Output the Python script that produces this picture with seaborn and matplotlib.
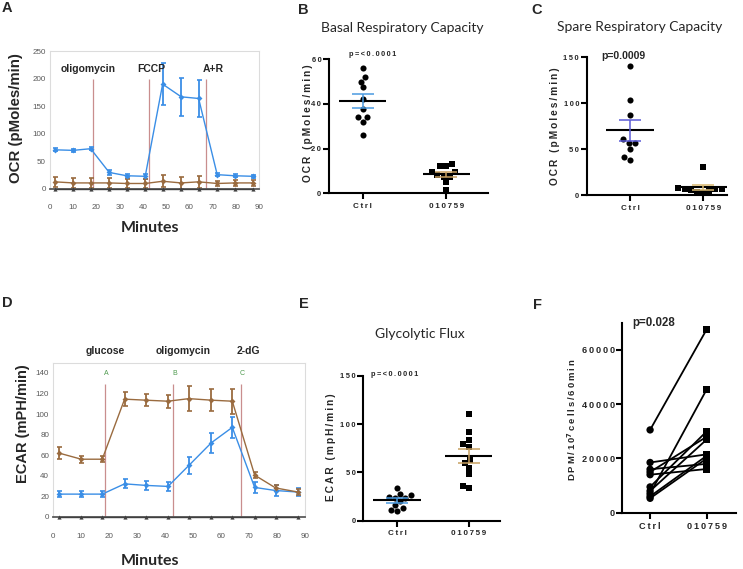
import numpy as np
import pandas as pd
import matplotlib
matplotlib.use("Agg")
import matplotlib.pyplot as plt
import seaborn as sns

# ---- Seahorse time courses (panels A and D) ----
minutes = [2, 10, 17.5, 25.5, 33, 41, 48.5, 56.5, 64, 72, 79.5, 87.5]
injections = [18.5, 42.7, 67]
ocr_injections = ["oligomycin", "FCCP", "A+R"]
ecar_injections = ["glucose", "oligomycin", "2-dG"]
ports = ["A", "B", "C"]

ocr_ctrl = [71, 70, 73, 30, 24, 23, 190, 167, 164, 26, 24, 23]
ocr_ctrl_err = [3, 3, 3, 4, 4, 5, 38, 34, 34, 3, 3, 3]
ocr_drug = [13, 11, 11, 11, 10, 10, 14, 11, 13, 10, 11, 11]
ocr_drug_err = [9, 9, 9, 9, 9, 9, 11, 11, 11, 5, 5, 5]

ecar_ctrl = [22, 22, 22, 32, 30.5, 29.5, 50, 72, 87, 28.5, 25.5, 24]
ecar_ctrl_err = [3, 3, 3, 4.5, 4.5, 4, 8, 9.5, 10.5, 5, 5, 4]
ecar_drug = [62, 56, 56, 114.5, 113.5, 112.5, 115, 113.5, 112.5, 40.5, 28, 24]
ecar_drug_err = [5.5, 3.5, 3, 7, 6, 6.5, 12, 11, 12, 3, 3, 3]

blank_wells = [0, 0, 0, 0, 0, 0, 0, 0, 0, 0, 0, 0]

# ---- scatter dot plots (B, C, E) and paired plot (F) ----
groups = ["Ctrl", "010759"]

basal_ctrl = [55.8, 51.8, 49.9, 47.3, 42, 37.5, 34, 34, 32, 26]
basal_drug = [13, 12, 12, 9.5, 9.5, 8, 7.5, 7.5, 5, 1.5]

spare_ctrl = [140, 103, 87, 60.5, 56.5, 56.5, 50, 41.5, 38]
spare_drug = [31, 7.5, 7, 7, 6.5, 5.5, 4, 3, 2.5]

glyco_ctrl = [34, 28, 27, 25, 24, 24, 20, 16, 13, 11, 10]
glyco_drug = [110, 92, 84, 79, 76.5, 63, 60, 55, 48, 36, 33.5]

dpm_ctrl = [30500, 18500, 16000, 15000, 14000, 9500, 8000, 7000, 6000, 5300]
dpm_drug = [67600, 21500, 18000, 28000, 16100, 30000, 27000, 45500, 21000, 20000]

blue = "#3a8ee6"
brown = "#9a6b3f"
narrow = ["Liberation Sans Narrow", "Liberation Sans", "DejaVu Sans"]

sns.set_style("ticks")
plt.rcParams["font.family"] = ["Liberation Sans", "DejaVu Sans"]

W, H = 743, 569
fig = plt.figure(figsize=(W / 100, H / 100), dpi=100)


def box(l, t, r, b):
    return fig.add_axes([l / W, 1 - b / H, (r - l) / W, (b - t) / H])


def ftext(x, y, s, **kw):
    fig.text(x / W, 1 - y / H, s, **kw)


def spaced(s):
    return "\u2009".join(s)


def seahorse(ax, ctrl, ctrl_err, drug, drug_err, ymax, ystep, line_top, xpad):
    n = len(minutes)
    df = pd.DataFrame({
        "Minutes": minutes * 3,
        "value": ctrl + drug + blank_wells,
        "series": ["ctrl"] * n + ["drug"] * n + ["blank"] * n,
    })
    ax.vlines(injections, 0, line_top, color="#c98e8e", lw=0.9, zorder=1)
    for vals, errs, c in ((ctrl, ctrl_err, blue), (drug, drug_err, brown)):
        ax.errorbar(minutes, vals, yerr=errs, fmt="none", ecolor=c,
                    elinewidth=1.3, capsize=1.8, capthick=1.2, zorder=2)
    sns.lineplot(data=df, x="Minutes", y="value", hue="series", style="series",
                 palette={"ctrl": blue, "drug": brown, "blank": "#404040"},
                 markers={"ctrl": "D", "drug": "D", "blank": "^"}, dashes=False,
                 markersize=3, linewidth=1, markeredgewidth=0, legend=False,
                 ax=ax, zorder=3, clip_on=False)
    ax.set_xlim(0, 90)
    ax.set_ylim(0, ymax)
    ax.set_xticks(range(0, 100, 10))
    ax.set_yticks(np.arange(0, ymax + 1, ystep))
    ax.set_xlabel("")
    ax.set_ylabel("")
    for s in ("top", "right", "left"):
        ax.spines[s].set_color("#dcdcdc")
        ax.spines[s].set_linewidth(0.8)
    ax.spines["bottom"].set_color("#5a5a5a")
    ax.spines["bottom"].set_linewidth(1.3)
    ax.tick_params(length=0, labelsize=5.8, labelcolor="#595959")
    ax.tick_params(axis="x", pad=xpad)
    ax.tick_params(axis="y", pad=3)
    for lab in ax.get_xticklabels() + ax.get_yticklabels():
        lab.set_family(narrow)


def prism(ax, ymax, yticks, xmin, xmax, tsize=5.8, ysize=5.4):
    sns.despine(ax=ax)
    for s in ("left", "bottom"):
        ax.spines[s].set_linewidth(1.5)
        ax.spines[s].set_color("black")
    ax.set_xlim(xmin, xmax)
    ax.set_ylim(0, ymax)
    ax.set_xticks([0, 1], labels=[spaced(g) for g in groups],
                  fontweight="bold", fontsize=tsize)
    ax.set_yticks(yticks, labels=[spaced(str(t)) for t in yticks],
                  fontweight="bold", fontsize=ysize)
    ax.tick_params(width=1.5, length=4, color="black")
    ax.tick_params(axis="x", pad=3)
    ax.tick_params(axis="y", pad=1.5)
    ax.set_xlabel("")
    ax.set_ylabel("")


def dotplot(ax, ctrl, drug, sem_colors, half):
    df = pd.DataFrame({"group": [groups[0]] * len(ctrl) + [groups[1]] * len(drug),
                       "value": ctrl + drug})
    for g, mk in zip(groups, ("o", "s")):
        sns.swarmplot(data=df[df["group"] == g], x="group", y="value", order=groups,
                      marker=mk, color="black", size=4.4, linewidth=0, ax=ax, zorder=3)
    stats = df.groupby("group", sort=False)["value"].agg(["mean", "sem"])
    for i, g in enumerate(groups):
        m, e = stats.loc[g, "mean"], stats.loc[g, "sem"]
        ax.hlines(m, i - half, i + half, color="black", lw=1.5, zorder=4)
        ax.errorbar(i, m, yerr=e, fmt="none", ecolor=sem_colors[i],
                    elinewidth=1.1, capsize=8, capthick=1.1, zorder=5)


# ---- A: OCR time course ----
axA = box(50, 51, 259, 189)
seahorse(axA, ocr_ctrl, ocr_ctrl_err, ocr_drug, ocr_drug_err, 250, 50, 200, 11)
for x, s in zip([16.4, 43.6, 70.2], ocr_injections):
    axA.text(x, 217, s, ha="center", va="center", fontsize=7.5, fontweight="bold")
ftext(16, 118, "OCR (pMoles/min)", rotation=90, ha="center", va="center",
      fontsize=10.8, fontweight="bold")
ftext(150, 228, "Minutes", ha="center", va="center", fontsize=11.5,
      fontweight="bold", family=["Lato", "DejaVu Sans"])

# ---- D: ECAR time course ----
axD = box(53.3, 362.7, 305, 516.7)
seahorse(axD, ecar_ctrl, ecar_ctrl_err, ecar_drug, ecar_drug_err, 150, 20, 129, 12)
for x, s in zip([18.5, 46.4, 69.6], ecar_injections):
    axD.text(x, 161, s, ha="center", va="center", fontsize=7.5,
             fontweight="bold", clip_on=False)
for t, p in zip(injections, ports):
    axD.text(t + 0.6, 139, p, ha="center", va="center", fontsize=5,
             color="#4e9a4e", family=narrow)
ftext(23, 424, "ECAR (mPH/min)", rotation=90, ha="center", va="center",
      fontsize=10.5, fontweight="bold")
ftext(150, 561, "Minutes", ha="center", va="center", fontsize=11.5,
      fontweight="bold", family=["Lato", "DejaVu Sans"])

# ---- B: basal respiratory capacity ----
axB = box(329, 59, 488.3, 193.3)
dotplot(axB, basal_ctrl, basal_drug, ["#4a9ae0", "#c8a060"], 0.28)
prism(axB, 60, [0, 20, 40, 60], -0.4, 1.5)
ftext(373, 54, spaced("p=<0.0001"), ha="center", va="center", fontsize=5.3,
      fontweight="bold")
ftext(308, 123, spaced("OCR (pMoles/min)"), rotation=90, ha="center",
      va="center", fontsize=7.3, fontweight="bold")
ftext(402, 28, "Basal Respiratory Capacity", ha="center", va="center",
      fontsize=10, family=["Lato", "DejaVu Sans"])

# ---- C: spare respiratory capacity ----
axC = box(586.7, 57.3, 726.7, 195)
dotplot(axC, spare_ctrl, spare_drug, ["#5b5bd6", "#d9b870"], 0.33)
prism(axC, 150, [0, 50, 100, 150], -0.59, 1.32)
ftext(623, 56, "p=0.0009", ha="center", va="center", fontsize=7.5,
      fontweight="bold")
ftext(555, 126, spaced("OCR (pMoles/min)"), rotation=90, ha="center",
      va="center", fontsize=7.3, fontweight="bold")
ftext(640, 27, "Spare Respiratory Capacity", ha="center", va="center",
      fontsize=10, family=["Lato", "DejaVu Sans"])

# ---- E: glycolytic flux ----
axE = box(363.3, 375.7, 500, 520.7)
dotplot(axE, glyco_ctrl, glyco_drug, ["#4a9ae0", "#c8a060"], 0.33)
prism(axE, 150, [0, 50, 100, 150], -0.47, 1.44)
ftext(394.5, 375, spaced("p=<0.0001"), ha="center", va="center", fontsize=5.3,
      fontweight="bold")
ftext(331, 447, spaced("ECAR (mpH/min)"), rotation=90, ha="center",
      va="center", fontsize=7.3, fontweight="bold")
ftext(420, 334, "Glycolytic Flux", ha="center", va="center",
      fontsize=10, family=["Lato", "DejaVu Sans"])

# ---- F: paired DPM ----
axF = box(622.3, 322.7, 735.7, 512.7)
n = len(dpm_ctrl)
dpm = pd.DataFrame({"pair": list(range(n)) * 2,
                    "group": [groups[0]] * n + [groups[1]] * n,
                    "value": dpm_ctrl + dpm_drug})
dpm["pos"] = dpm["group"].map({g: i for i, g in enumerate(groups)})
sns.lineplot(data=dpm, x="pos", y="value", units="pair", estimator=None,
             color="black", lw=1.3, ax=axF, zorder=2)
sns.scatterplot(data=dpm, x="pos", y="value", style="group",
                markers={groups[0]: "o", groups[1]: "s"}, color="black",
                s=28, linewidth=0, legend=False, ax=axF, zorder=3, clip_on=False)
prism(axF, 70000, [0, 20000, 40000, 60000], -0.49, 1.51, tsize=6.6, ysize=6.6)
ftext(654, 323, "p=0.028", ha="center", va="center", fontsize=8.3,
      fontweight="bold")
ftext(572, 420, spaced("DPM/10") + r"$^{\mathbf{7}}$" + "\u2009" + spaced("cells/60min"),
      rotation=90, ha="center", va="center", fontsize=6.8, fontweight="bold")

# ---- panel letters ----
for x, y, s in [(7, 8, "A"), (303, 10, "B"), (537, 10, "C"),
                (7, 303, "D"), (304, 304, "E"), (537, 305, "F")]:
    ftext(x, y, s, ha="center", va="center", fontsize=10.5, fontweight="bold")

fig.savefig("out.png", dpi=100)
